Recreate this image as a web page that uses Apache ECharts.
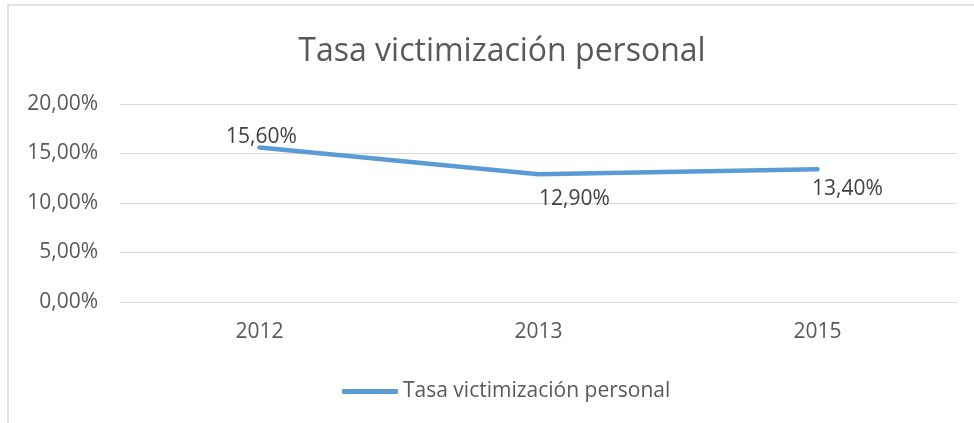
<!DOCTYPE html>
<html>
<head>
<meta charset="utf-8">
<title>Tasa victimización personal</title>
<script src="https://cdn.jsdelivr.net/npm/echarts@6/dist/echarts.min.js"></script>
<style>
  html, body { margin: 0; padding: 0; background: #fff; overflow: hidden; }
  #chart { width: 974px; height: 423px; }
</style>
</head>
<body>
<div id="chart"></div>
<script>
// datos
const years = ['2012', '2013', '2015']
const tasa = [0.156, 0.129, 0.134]
const seriesName = 'Tasa victimización personal'

// posición de cada etiqueta (como en el original)
const labelPlace = [
  { position: 'top', distance: 0, offset: [2, 0] },
  { position: 'bottom', distance: 14, offset: [36, 0] },
  { position: 'bottom', distance: 9, offset: [30, 0] }
]

const fmt = v => (v * 100).toFixed(2).replace('.', ',') + '%'
const font = '"Open Sans", "Noto Sans", sans-serif'

const chart = echarts.init(document.getElementById('chart'))

chart.setOption({
  animation: false,
  textStyle: { fontFamily: font },
  graphic: [{
    type: 'rect',
    shape: { x: 8, y: 5, width: 1100, height: 600 },
    style: { fill: 'none', stroke: '#d9d9d9', lineWidth: 1.5 },
    silent: true
  }],
  title: {
    text: seriesName,
    left: 497,
    top: 31,
    textAlign: 'center',
    textStyle: { fontSize: 32, fontWeight: 'normal', color: '#595959', fontFamily: font }
  },
  legend: {
    left: 337,
    top: 376,
    icon: 'roundRect',
    itemWidth: 56,
    itemHeight: 5,
    itemGap: 6,
    textStyle: { fontSize: 21, color: '#595959', fontFamily: font },
    data: [seriesName]
  },
  grid: { left: 120, right: 17, top: 104, bottom: 121 },
  xAxis: {
    type: 'category',
    data: years,
    boundaryGap: true,
    axisLine: { lineStyle: { color: '#d9d9d9', width: 1 } },
    axisTick: { show: false },
    axisLabel: { margin: 20, fontSize: 21, color: '#595959', fontFamily: font }
  },
  yAxis: {
    type: 'value',
    min: 0,
    max: 0.2,
    interval: 0.05,
    axisLine: { show: false },
    axisTick: { show: false },
    axisLabel: { margin: 22, fontSize: 21, color: '#595959', fontFamily: font, formatter: fmt },
    splitLine: { lineStyle: { color: '#d9d9d9', width: 1 } }
  },
  series: [{
    name: seriesName,
    type: 'line',
    symbol: 'circle',
    symbolSize: 0.1,
    itemStyle: { color: '#5b9bd5' },
    lineStyle: { color: '#5b9bd5', width: 4.5, cap: 'round', join: 'round' },
    data: tasa.map((v, i) => ({
      value: v,
      label: Object.assign({
        show: true,
        fontSize: 21,
        color: '#404040',
        fontFamily: font,
        formatter: p => fmt(p.value)
      }, labelPlace[i])
    }))
  }]
})
</script>
</body>
</html>
